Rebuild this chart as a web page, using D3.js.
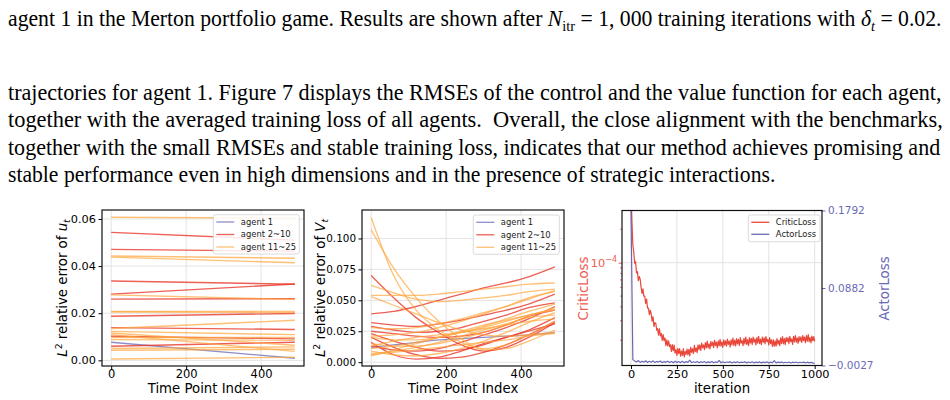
<!DOCTYPE html>
<html>
<head>
<meta charset="utf-8">
<script src="https://cdn.jsdelivr.net/npm/d3@7"></script>
<style>
body { margin: 0; background: #fff; }
svg { display: block; }
</style>
</head>
<body>
<svg id="fig" width="950" height="400"></svg>
<script>
// ---------------- data ----------------
// text above the figure
const topLine = ["agent 1 in the Merton portfolio game. Results are shown after ", {i: "N"}, {sub: "itr"},
    " = 1, 000 training iterations with ", {i: "δ"}, {sub: "t", it: true}, " = 0.02."];
const paragraph = [
    "trajectories for agent 1. Figure 7 displays the RMSEs of the control and the value function for each agent,",
    "together with the averaged training loss of all agents.  Overall, the close alignment with the benchmarks,",
    "together with the small RMSEs and stable training loss, indicates that our method achieves promising and",
    "stable performance even in high dimensions and in the presence of strategic interactions."
];

// panel 1: L2 relative error of u_t (start / end of each agent's line)
const uTime = [0, 490];
const uAgent1 = [[0.0077, 0.0009]];
const uAgents2to10 = [
    [0.0543, 0.0510], [0.0471, 0.0463], [0.0337, 0.0323], [0.0281, 0.0324], [0.0260, 0.0262],
    [0.0187, 0.0199], [0.0139, 0.0131], [0.0102, 0.0091], [0.0060, 0.0077]
];
const uAgents11to25 = [
    [0.0607, 0.0603], [0.0443, 0.0433], [0.0438, 0.0414], [0.0278, 0.0258], [0.0208, 0.0208],
    [0.0205, 0.0203], [0.0135, 0.0170], [0.0123, 0.0109], [0.0116, 0.0064], [0.0109, 0.0038],
    [0.0097, 0.0097], [0.0088, 0.0085], [0.0050, 0.0057], [0.0043, 0.0047], [0.0006, 0.0013]
];
const uTicksX = [0, 200, 400];
const uTicksY = [0, 0.02, 0.04, 0.06];

// panel 2: L2 relative error of V_t
const vTime = [0, 60, 120, 180, 240, 300, 360, 420, 490];
const vAgent1 = [
    [0.012, 0.014, 0.016, 0.018, 0.019, 0.020, 0.021, 0.022, 0.024]
];
const vAgents2to10 = [
    [0.039, 0.041, 0.045, 0.050, 0.055, 0.060, 0.064, 0.069, 0.077],
    [0.070, 0.052, 0.036, 0.024, 0.014, 0.009, 0.012, 0.020, 0.032],
    [0.032, 0.030, 0.029, 0.031, 0.034, 0.038, 0.042, 0.047, 0.055],
    [0.029, 0.026, 0.024, 0.025, 0.028, 0.033, 0.038, 0.044, 0.048],
    [0.023, 0.017, 0.012, 0.009, 0.010, 0.014, 0.020, 0.026, 0.036],
    [0.016, 0.006, 0.0025, 0.004, 0.009, 0.015, 0.020, 0.025, 0.031],
    [0.020, 0.012, 0.006, 0.003, 0.004, 0.008, 0.014, 0.022, 0.033],
    [0.025, 0.023, 0.021, 0.020, 0.021, 0.024, 0.030, 0.037, 0.042],
    [0.013, 0.010, 0.009, 0.011, 0.016, 0.022, 0.028, 0.035, 0.045]
];
const vAgents11to25 = [
    [0.117, 0.070, 0.042, 0.026, 0.016, 0.011, 0.014, 0.022, 0.033],
    [0.107, 0.076, 0.052, 0.033, 0.019, 0.010, 0.011, 0.017, 0.026],
    [0.062, 0.056, 0.051, 0.049, 0.050, 0.052, 0.054, 0.057, 0.059],
    [0.054, 0.054, 0.054, 0.055, 0.057, 0.059, 0.061, 0.063, 0.064],
    [0.053, 0.046, 0.039, 0.032, 0.026, 0.022, 0.021, 0.022, 0.024],
    [0.028, 0.027, 0.028, 0.031, 0.035, 0.040, 0.045, 0.051, 0.058],
    [0.021, 0.022, 0.024, 0.028, 0.033, 0.039, 0.045, 0.052, 0.057],
    [0.020, 0.018, 0.018, 0.020, 0.024, 0.029, 0.035, 0.041, 0.047],
    [0.015, 0.013, 0.013, 0.015, 0.019, 0.024, 0.030, 0.037, 0.044],
    [0.011, 0.013, 0.016, 0.020, 0.024, 0.028, 0.033, 0.038, 0.042],
    [0.009, 0.006, 0.005, 0.007, 0.011, 0.017, 0.024, 0.032, 0.040],
    [0.007, 0.009, 0.012, 0.016, 0.021, 0.026, 0.031, 0.036, 0.038],
    [0.006, 0.008, 0.010, 0.012, 0.014, 0.016, 0.018, 0.021, 0.023],
    [0.005, 0.010, 0.015, 0.020, 0.025, 0.030, 0.034, 0.038, 0.043],
    [0.013, 0.017, 0.020, 0.022, 0.024, 0.027, 0.030, 0.033, 0.035]
];
const vTicksX = [0, 200, 400];
const vTicksY = [0, 0.025, 0.05, 0.075, 0.1];

// panel 3: training losses (critic every 5 iterations, actor every 10)
const criticIter = d3.range(0, 1001, 5);
const criticLoss = [
    45e-5, 24e-5, 14.5e-5, 12.5e-5, 9.9e-5, 10.2e-5, 8.1e-5, 8.3e-5, 6.9e-5, 7.5e-5,
    7.1e-5, 6.0e-5, 5.3e-5, 5.8e-5, 5.0e-5, 5.0e-5, 4.3e-5, 4.7e-5, 3.9e-5, 3.9e-5,
    3.4e-5, 3.73e-5, 3.45e-5, 2.98e-5, 3.26e-5, 2.66e-5, 2.88e-5, 2.86e-5, 2.47e-5, 2.55e-5,
    2.23e-5, 2.54e-5, 2.19e-5, 2.30e-5, 2.00e-5, 2.25e-5, 1.99e-5, 2.10e-5, 1.79e-5, 2.02e-5,
    1.78e-5, 1.98e-5, 1.75e-5, 1.82e-5, 1.59e-5, 1.83e-5, 1.61e-5, 1.81e-5, 1.53e-5, 1.65e-5,
    1.46e-5, 1.69e-5, 1.52e-5, 1.68e-5, 1.44e-5, 1.61e-5, 1.46e-5, 1.68e-5, 1.42e-5, 1.59e-5,
    1.49e-5, 1.67e-5, 1.48e-5, 1.66e-5, 1.45e-5, 1.73e-5, 1.56e-5, 1.68e-5, 1.52e-5, 1.80e-5,
    1.58e-5, 1.71e-5, 1.55e-5, 1.82e-5, 1.65e-5, 1.82e-5, 1.62e-5, 1.89e-5, 1.71e-5, 1.82e-5,
    1.65e-5, 1.91e-5, 1.71e-5, 1.97e-5, 1.71e-5, 1.86e-5, 1.67e-5, 1.96e-5, 1.78e-5, 1.93e-5,
    1.72e-5, 2.00e-5, 1.79e-5, 1.93e-5, 1.71e-5, 1.98e-5, 1.78e-5, 2.04e-5, 1.77e-5, 1.94e-5,
    1.73e-5, 2.02e-5, 1.81e-5, 1.98e-5, 1.77e-5, 2.05e-5, 1.84e-5, 1.97e-5, 1.74e-5, 2.02e-5,
    1.82e-5, 2.09e-5, 1.80e-5, 2.01e-5, 1.78e-5, 2.07e-5, 1.86e-5, 2.04e-5, 1.80e-5, 2.11e-5,
    1.89e-5, 1.99e-5, 1.79e-5, 2.08e-5, 1.86e-5, 2.14e-5, 1.84e-5, 2.03e-5, 1.79e-5, 2.11e-5,
    1.89e-5, 2.08e-5, 1.84e-5, 2.14e-5, 1.92e-5, 2.06e-5, 1.82e-5, 2.11e-5, 1.89e-5, 2.17e-5,
    1.87e-5, 2.05e-5, 1.83e-5, 2.14e-5, 1.92e-5, 2.10e-5, 1.86e-5, 2.16e-5, 1.94e-5, 2.04e-5,
    1.82e-5, 2.11e-5, 1.87e-5, 2.02e-5, 1.76e-5, 2.02e-5, 1.77e-5, 1.98e-5, 1.77e-5, 2.07e-5,
    1.85e-5, 2.00e-5, 1.79e-5, 2.10e-5, 1.87e-5, 2.16e-5, 1.86e-5, 2.07e-5, 1.83e-5, 2.12e-5,
    1.94e-5, 2.11e-5, 1.87e-5, 2.17e-5, 1.94e-5, 2.06e-5, 1.84e-5, 2.17e-5, 1.93e-5, 2.21e-5,
    1.92e-5, 2.10e-5, 1.88e-5, 2.16e-5, 1.97e-5, 2.15e-5, 1.91e-5, 2.21e-5, 1.99e-5, 2.14e-5,
    1.90e-5, 2.20e-5, 1.96e-5, 2.25e-5, 1.94e-5, 2.12e-5, 1.90e-5, 2.18e-5, 1.98e-5, 2.16e-5,
    1.96e-5
];
const actorIter = d3.range(0, 1001, 10);
const actorLoss = [
    0.1792, 0.0042, 0.0026, 0.0014, 0.0031, 0.0009, 0.0024, 0.0012, 0.0028, 0.0008,
    0.0022, 0.0011, 0.0027, 0.0007, 0.0021, 0.0013, 0.0025, 0.0006, 0.0019, 0.0010,
    0.0024, 0.0008, 0.0020, 0.0005, 0.0023, 0.0009, 0.0018, 0.0007, 0.0022, 0.0004,
    0.0019, 0.0010, 0.0035, 0.0006, 0.0017, 0.0008, 0.0021, 0.0005, 0.0018, 0.0009,
    0.0020, 0.0004, 0.0016, 0.0007, 0.0019, 0.0005, 0.0015, 0.0008, 0.0033, 0.0004,
    0.0017, 0.0006, 0.0014, 0.0009, 0.0018, 0.0003, 0.0015, 0.0007, 0.0017, 0.0005,
    0.0013, 0.0008, 0.0016, 0.0004, 0.0014, 0.0006, 0.0017, 0.0003, 0.0012, 0.0007,
    0.0015, 0.0004, 0.0013, 0.0006, 0.0016, 0.0003, 0.0012, 0.0005, 0.0030, 0.0004,
    0.0013, 0.0006, 0.0015, 0.0003, 0.0011, 0.0005, 0.0014, 0.0002, 0.0012, 0.0006,
    0.0014, 0.0003, 0.0011, 0.0005, 0.0013, 0.0002, 0.0012, 0.0004, 0.0010, 0.0003,
    -0.0002
];
const lossTicksX = [0, 250, 500, 750, 1000];
const actorTicks = [-0.0027, 0.0882, 0.1792];
const criticMinorTicks = [2e-5, 3e-5, 4e-5, 5e-5, 6e-5, 7e-5, 8e-5, 9e-5, 2e-4];

// ---------------- style ----------------
const sans = "DejaVu Sans, sans-serif";
const serif = "Liberation Serif, Times New Roman, serif";
const colAgent1 = "#5050b0", colRed = "#e8382b", colOrange = "#ffa53c";
const colCritic = "#e8473a", colActor = "#5a5aaa";
const colCriticText = "#ee5d52", colActorText = "#6a6ab6";

const svg = d3.select("#fig");
const defs = svg.append("defs");

// ---------------- text block ----------------
// each line is drawn at its natural width, then squeezed to the measured width
function textLine(parts, x0, y, width) {
    const t = svg.append("text")
        .style("font-family", serif)
        .style("font-size", "23.5px")
        .style("white-space", "pre")
        .attr("fill", "#000");
    let shift = 0;
    parts.forEach(p => {
        const s = t.append("tspan");
        if (shift) { s.attr("dy", -shift); shift = 0; }
        if (typeof p === "string") s.text(p);
        else if (p.i) s.style("font-style", "italic").text(p.i);
        else if (p.sub) {
            s.attr("dy", 4.5).style("font-size", "15.5px")
             .style("font-style", p.it ? "italic" : "normal").text(p.sub);
            shift = 4.5;
        }
    });
    const w0 = t.node().getBBox().width;
    t.attr("transform", `translate(${x0},${y}) scale(${width / w0},1)`);
}
textLine(topLine, 8, 26, 934);
textLine([paragraph[0]], 8, 99.5, 934);
textLine([paragraph[1]], 8, 127, 935);
textLine([paragraph[2]], 8, 154.5, 933);
textLine([paragraph[3]], 8, 182, 768);

// ---------------- helpers ----------------
function panel(px, py, w, h, id) {
    const g = svg.append("g").attr("transform", `translate(${px},${py})`);
    defs.append("clipPath").attr("id", id)
        .append("rect").attr("width", w).attr("height", h);
    const grid = g.append("g");
    const content = g.append("g").attr("clip-path", `url(#${id})`);
    const axes = g.append("g");
    return {g, grid, content, axes, w, h};
}

function gridLines(p, x, y, xt, yt) {
    p.grid.selectAll(".gx").data(xt).join("line").attr("class", "gx")
        .attr("x1", d => x(d)).attr("x2", d => x(d)).attr("y1", 0).attr("y2", p.h)
        .attr("stroke", "#e3e3e3").attr("stroke-width", 1);
    p.grid.selectAll(".gy").data(yt).join("line").attr("class", "gy")
        .attr("x1", 0).attr("x2", p.w).attr("y1", d => y(d)).attr("y2", d => y(d))
        .attr("stroke", "#e3e3e3").attr("stroke-width", 1);
}

function styleAxis(sel, size, color) {
    sel.attr("font-family", sans).attr("font-size", size).attr("color", color || "#000");
    sel.select(".domain").remove();
    sel.selectAll("line").attr("stroke-width", 1);
}

function spines(p) {
    p.axes.append("rect").attr("width", p.w).attr("height", p.h)
        .attr("fill", "none").attr("stroke", "#111").attr("stroke-width", 1.2);
}

// rotated label made of plain / italic / super / subscript parts
function mathLabel(parent, x, y, parts, size, color) {
    const t = parent.append("text")
        .attr("transform", `translate(${x},${y}) rotate(-90)`)
        .attr("text-anchor", "middle")
        .style("font-family", sans).style("font-size", size + "px")
        .style("white-space", "pre")
        .attr("fill", color || "#000");
    let shift = 0;
    parts.forEach(p => {
        const s = t.append("tspan");
        if (shift) { s.attr("dy", -shift); shift = 0; }
        if (p.sup) { s.attr("dy", -5).style("font-size", (size * 0.7) + "px").text(p.sup); shift = -5; }
        else if (p.sub) { s.attr("dy", 3).style("font-size", (size * 0.7) + "px").style("font-style", "italic").text(p.sub); shift = 3; }
        else s.style("font-style", p.it ? "italic" : "normal").text(p.t);
    });
    return t;
}

function legend(parent, x, y, w, h, items) {
    const lg = parent.append("g").attr("transform", `translate(${x},${y})`);
    lg.append("rect").attr("width", w).attr("height", h).attr("rx", 2)
        .attr("fill", "#fff").attr("fill-opacity", 0.85)
        .attr("stroke", "#d2d2d2").attr("stroke-width", 0.8);
    const row = lg.selectAll(".item").data(items).join("g")
        .attr("transform", (d, i) => `translate(0,${7.3 + i * d.step})`);
    row.append("line").attr("x1", 3).attr("x2", 21)
        .attr("stroke", d => d.color).attr("stroke-opacity", d => d.alpha)
        .attr("stroke-width", 1.3);
    row.append("text").attr("x", 27.5).attr("dy", "0.35em")
        .style("font-family", sans).style("font-size", "8.4px").attr("fill", "#1a1a1a")
        .text(d => d.label);
}

// ---------------- panel 1 ----------------
const p1 = panel(102, 210, 202, 156, "clip1");
const x1 = d3.scaleLinear().domain([-24.5, 514.5]).range([0, p1.w]);
const y1 = d3.scaleLinear().domain([-0.0024, 0.0638]).range([p1.h, 0]);
gridLines(p1, x1, y1, uTicksX, uTicksY);

const line1 = d3.line().x((d, i) => x1(uTime[i])).y(d => y1(d));
[[uAgent1, colAgent1, 0.65], [uAgents2to10, colRed, 0.8], [uAgents11to25, colOrange, 0.7]]
    .forEach(([rows, c, a]) => {
        p1.content.append("g").selectAll("path").data(rows).join("path")
            .attr("d", line1).attr("fill", "none")
            .attr("stroke", c).attr("stroke-opacity", a).attr("stroke-width", 1.4);
    });

const ax1x = p1.axes.append("g").attr("transform", `translate(0,${p1.h})`)
    .call(d3.axisBottom(x1).tickValues(uTicksX).tickSize(3.5).tickPadding(0.5));
styleAxis(ax1x, 11.5);
const ax1y = p1.axes.append("g")
    .call(d3.axisLeft(y1).tickValues(uTicksY).tickFormat(d3.format(".2f")).tickSize(3.5).tickPadding(2.5));
styleAxis(ax1y, 11.3);
spines(p1);
p1.axes.append("text").attr("x", p1.w / 2).attr("y", 183).attr("text-anchor", "middle")
    .style("font-family", sans).style("font-size", "13.3px").text("Time Point Index");
mathLabel(p1.axes, -35, 78, [{t: "L", it: true}, {sup: "2"}, {t: " relative error of "}, {t: "u", it: true}, {sub: "t"}], 13.3);
legend(p1.axes, 111.3, 4.7, 86, 39.3, [
    {label: "agent 1", color: colAgent1, alpha: 0.65, step: 12.5},
    {label: "agent 2~10", color: colRed, alpha: 0.8, step: 12.5},
    {label: "agent 11~25", color: colOrange, alpha: 0.7, step: 12.5}
]);

// ---------------- panel 2 ----------------
const p2 = panel(362, 210, 202, 156, "clip2");
const x2 = d3.scaleLinear().domain([-24.5, 514.5]).range([0, p2.w]);
const y2 = d3.scaleLinear().domain([-0.0031, 0.123]).range([p2.h, 0]);
gridLines(p2, x2, y2, vTicksX, vTicksY);

const line2 = d3.line().x((d, i) => x2(vTime[i])).y(d => y2(d)).curve(d3.curveMonotoneX);
[[vAgent1, colAgent1, 0.65], [vAgents2to10, colRed, 0.8], [vAgents11to25, colOrange, 0.7]]
    .forEach(([rows, c, a]) => {
        p2.content.append("g").selectAll("path").data(rows).join("path")
            .attr("d", line2).attr("fill", "none")
            .attr("stroke", c).attr("stroke-opacity", a).attr("stroke-width", 1.3);
    });

const ax2x = p2.axes.append("g").attr("transform", `translate(0,${p2.h})`)
    .call(d3.axisBottom(x2).tickValues(vTicksX).tickSize(3.5).tickPadding(0.5));
styleAxis(ax2x, 11.5);
const ax2y = p2.axes.append("g")
    .call(d3.axisLeft(y2).tickValues(vTicksY).tickFormat(d3.format(".3f")).tickSize(3.5).tickPadding(2.5));
styleAxis(ax2y, 10.4);
spines(p2);
p2.axes.append("text").attr("x", p2.w / 2).attr("y", 183).attr("text-anchor", "middle")
    .style("font-family", sans).style("font-size", "13.3px").text("Time Point Index");
mathLabel(p2.axes, -37.5, 78, [{t: "L", it: true}, {sup: "2"}, {t: " relative error of "}, {t: "V", it: true}, {sub: "t"}], 13.3);
legend(p2.axes, 111.3, 5, 86, 39.3, [
    {label: "agent 1", color: colAgent1, alpha: 0.65, step: 12.5},
    {label: "agent 2~10", color: colRed, alpha: 0.8, step: 12.5},
    {label: "agent 11~25", color: colOrange, alpha: 0.7, step: 12.5}
]);

// ---------------- panel 3 ----------------
const p3 = panel(622, 210.5, 200, 155, "clip3");
const x3 = d3.scaleLinear().domain([-49, 1040]).range([0, p3.w]);
const yC = d3.scaleLog().domain([1.186e-5, 2.95e-4]).range([p3.h, 0]);
const yA = d3.scaleLinear().domain([-0.0027, 0.1792]).range([p3.h, 0]);
gridLines(p3, x3, yC, lossTicksX, [1e-4]);

p3.content.append("path")
    .attr("d", d3.line().x((d, i) => x3(criticIter[i])).y(d => yC(d))(criticLoss))
    .attr("fill", "none").attr("stroke", colCritic).attr("stroke-width", 1.2)
    .attr("stroke-linejoin", "round");
p3.content.append("path")
    .attr("d", d3.line().x((d, i) => x3(actorIter[i])).y(d => yA(d))(actorLoss))
    .attr("fill", "none").attr("stroke", colActor).attr("stroke-opacity", 0.9)
    .attr("stroke-width", 1.2).attr("stroke-linejoin", "round");

const ax3x = p3.axes.append("g").attr("transform", `translate(0,${p3.h})`)
    .call(d3.axisBottom(x3).tickValues(lossTicksX).tickFormat(d3.format("d")).tickSize(3.5).tickPadding(0.5));
styleAxis(ax3x, 11.3);

// left log axis: one major tick (10^-4) and minor ticks
const ax3c = p3.axes.append("g")
    .call(d3.axisLeft(yC).tickValues([1e-4]).tickFormat("").tickSize(3.5));
styleAxis(ax3c, 11, colCriticText);
p3.axes.append("g").selectAll("line").data(criticMinorTicks).join("line")
    .attr("x1", -2).attr("x2", 0).attr("y1", d => yC(d)).attr("y2", d => yC(d))
    .attr("stroke", colCriticText).attr("stroke-width", 0.8);
const expLabel = p3.axes.append("text").attr("x", -5).attr("y", yC(1e-4) + 4.8)
    .attr("text-anchor", "end").style("font-family", sans).style("font-size", "11.3px")
    .attr("fill", colCriticText);
expLabel.append("tspan").text("10");
expLabel.append("tspan").attr("dy", -5).style("font-size", "8px").text("−4");

const ax3a = p3.axes.append("g").attr("transform", `translate(${p3.w},0)`)
    .call(d3.axisRight(yA).tickValues(actorTicks).tickFormat(d3.format(".4f")).tickSize(3.5).tickPadding(2.5));
styleAxis(ax3a, 10.5, colActorText);
spines(p3);

p3.axes.append("text").attr("x", p3.w / 2).attr("y", 182.5).attr("text-anchor", "middle")
    .style("font-family", sans).style("font-size", "13.3px").text("iteration");
mathLabel(p3.axes, -34, 78, [{t: "CriticLoss"}], 13.3, colCriticText);
mathLabel(p3.axes, 267, 78, [{t: "ActorLoss"}], 13.3, colActorText);
legend(p3.axes, 126.3, 4.5, 71.7, 26.7, [
    {label: "CriticLoss", color: colCritic, alpha: 1, step: 12},
    {label: "ActorLoss", color: colActor, alpha: 0.9, step: 12}
]);
</script>
</body>
</html>
